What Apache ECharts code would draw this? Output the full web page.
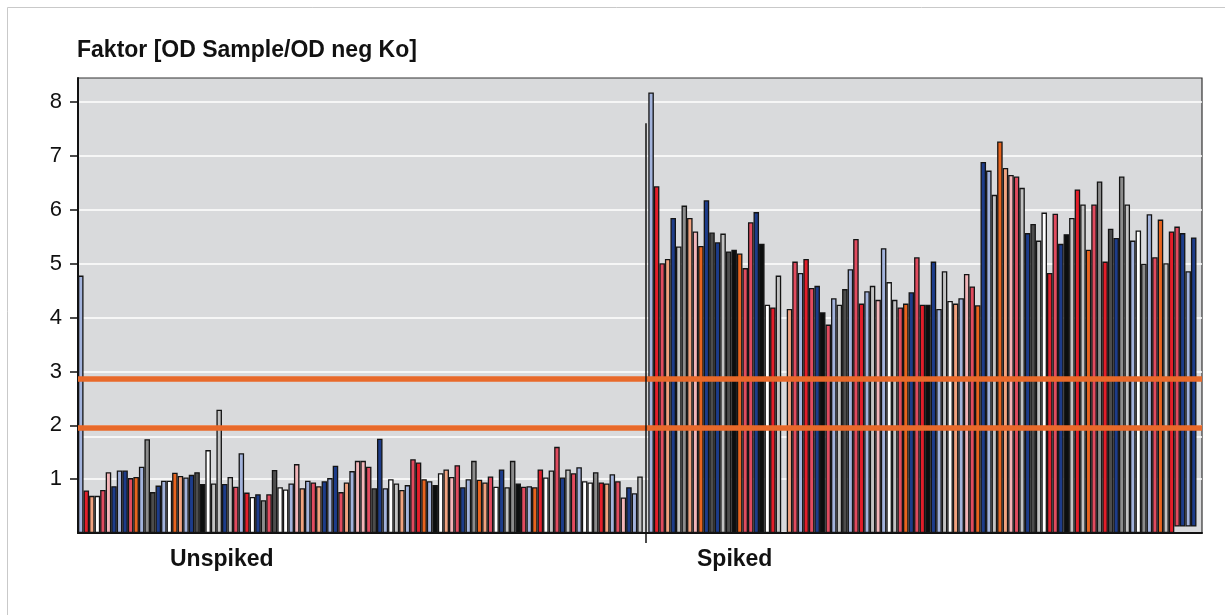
<!DOCTYPE html>
<html>
<head>
<meta charset="utf-8">
<title>Faktor</title>
<script src="https://cdn.jsdelivr.net/npm/echarts@6/dist/echarts.min.js"></script>
<style>
  html, body { margin: 0; padding: 0; background: #fff; }
  #chart { width: 1225px; height: 615px; }
</style>
</head>
<body>
<div id="chart"></div>
<script>
// Werte (Faktor OD Sample / OD neg Ko)
const unspikedValues = [
  4.78, 0.79, 0.69, 0.69, 0.80, 1.13, 0.87, 1.16, 1.16, 1.02,
  1.04, 1.23, 1.74, 0.76, 0.88, 0.97, 0.97, 1.12, 1.06, 1.03,
  1.08, 1.13, 0.91, 1.54, 0.92, 2.29, 0.91, 1.04, 0.86, 1.48,
  0.75, 0.67, 0.72, 0.61, 0.72, 1.17, 0.85, 0.81, 0.92, 1.28,
  0.83, 0.97, 0.94, 0.87, 0.96, 1.02, 1.25, 0.76, 0.94, 1.15,
  1.34, 1.34, 1.23, 0.83, 1.75, 0.83, 1.00, 0.92, 0.80, 0.89,
  1.37, 1.31, 1.00, 0.96, 0.89, 1.11, 1.18, 1.04, 1.26, 0.85,
  1.00, 1.34, 0.99, 0.94, 1.05, 0.86, 1.18, 0.85, 1.34, 0.92,
  0.86, 0.87, 0.85, 1.18, 1.03, 1.16, 1.60, 1.03, 1.18, 1.11,
  1.22, 0.96, 0.94, 1.13, 0.94, 0.92, 1.09, 0.96, 0.66, 0.85,
  0.74, 1.05
]
const unspikedColors = [
  'lb', 'rd', 'sa', 'wh', 'pr', 'lp', 'db', 'lb', 'db', 'pr',
  'or', 'lb', 'gr', 'dg', 'db', 'lb', 'wh', 'or', 'sa', 'lb',
  'db', 'dg', 'bk', 'wh', 'lg', 'lg', 'db', 'lg', 'pr', 'lb',
  'rd', 'wh', 'db', 'gr', 'pr', 'dg', 'wh', 'wh', 'lb', 'lp',
  'sa', 'lb', 'pr', 'sa', 'db', 'lb', 'db', 'pr', 'sa', 'lb',
  'lp', 'lp', 'pr', 'dg', 'db', 'lb', 'wh', 'lg', 'sa', 'lb',
  'pr', 'rd', 'or', 'lb', 'bk', 'wh', 'sa', 'lp', 'pr', 'db',
  'lb', 'gr', 'or', 'sa', 'pr', 'wh', 'db', 'lg', 'gr', 'bk',
  'pr', 'lb', 'or', 'rd', 'wh', 'lg', 'pr', 'db', 'lg', 'pr',
  'lb', 'wh', 'wh', 'gr', 'rd', 'sa', 'lb', 'pr', 'lp', 'db',
  'lb', 'lg'
]
const spikedValues = [
  8.18, 6.44, 5.01, 5.09, 5.85, 5.32, 6.08, 5.85, 5.60, 5.33,
  6.18, 5.58, 5.40, 5.56, 5.23, 5.26, 5.19, 4.92, 5.77, 5.96,
  5.37, 4.24, 4.19, 4.78, null, 4.16, 5.04, 4.83, 5.09, 4.55,
  4.59, 4.10, 3.87, 4.36, 4.24, 4.53, 4.90, 5.46, 4.26, 4.49,
  4.59, 4.33, 5.29, 4.66, 4.33, 4.19, 4.26, 4.47, 5.12, 4.24,
  4.24, 5.04, 4.16, 4.86, 4.31, 4.26, 4.36, 4.81, 4.58, 4.23,
  6.89, 6.73, 6.28, 7.27, 6.78, 6.65, 6.62, 6.41, 5.57, 5.74,
  5.43, 5.95, 4.83, 5.93, 5.37, 5.55, 5.85, 6.38, 6.10, 5.26,
  6.10, 6.53, 5.04, 5.65, 5.48, 6.62, 6.10, 5.43, 5.62, 5.00,
  5.92, 5.12, 5.82, 5.01, 5.60, 5.69, 5.57, 4.86, 5.49
]
const spikedColors = [
  'lb', 'rd', 'pr', 'sa', 'db', 'lg', 'gr', 'sa', 'lp', 'or',
  'db', 'dg', 'db', 'lg', 'dg', 'bk', 'or', 'pr', 'pr', 'db',
  'bk', 'wh', 'rd', 'lg', 'lg', 'sa', 'pr', 'lb', 'rd', 'pr',
  'db', 'bk', 'pr', 'lb', 'lg', 'dg', 'lb', 'pr', 'rd', 'lb',
  'lg', 'lp', 'lb', 'wh', 'lg', 'pr', 'or', 'db', 'pr', 'rd',
  'bk', 'db', 'lb', 'lg', 'wh', 'sa', 'lb', 'lp', 'pr', 'or',
  'db', 'lb', 'lg', 'or', 'sa', 'lp', 'pr', 'lg', 'db', 'dg',
  'lg', 'wh', 'rd', 'pr', 'db', 'bk', 'lg', 'rd', 'lg', 'or',
  'pr', 'gr', 'rd', 'dg', 'db', 'gr', 'lg', 'lb', 'wh', 'gr',
  'lb', 'pr', 'or', 'lg', 'rd', 'pr', 'db', 'lb', 'db'
]
// die letzten 4 Balken beginnen nicht bei 0
const spikedBaseTail = [0.12, 0.12, 0.12, 0.12]
// Grenzwerte (orange Linien)
const cutoffs = [2.86, 1.96]
const extraGridValue = 1.79
const separatorTop = 7.61
const yTicks = [1, 2, 3, 4, 5, 6, 7, 8]

const palette = {
  lb: '#a3b3dc', db: '#1d3c8a', rd: '#e31e2a', pr: '#e14b5f',
  lp: '#f3b5b9', sa: '#f1a27f', or: '#e8641e', wh: '#ffffff',
  lg: '#c2c2c2', gr: '#8c8c8c', dg: '#4d4d4d', bk: '#0c0e0e'
}
const fontFamily = '"Liberation Sans", Arial, Helvetica, sans-serif'

const categories = [
  ...unspikedValues.map((v, i) => 'U' + (i + 1)),
  'sep',
  ...spikedValues.map((v, i) => 'S' + (i + 1)),
  'end'
]
const sepIndex = unspikedValues.length

const tops = [...unspikedValues, null, ...spikedValues, null]
const colors = [...unspikedColors, null, ...spikedColors, null]
const bases = categories.map(() => 0)
spikedBaseTail.forEach((b, i) => {
  bases[sepIndex + spikedValues.length - spikedBaseTail.length + 1 + i] = b
})

const baseData = bases.map(b => b)
const barData = tops.map((t, i) => {
  if (t === null) return null
  return { value: +(t - bases[i]).toFixed(3), itemStyle: { color: palette[colors[i]] }}
})

const option = {
  animation: false,
  backgroundColor: '#ffffff',
  title: {
    text: 'Faktor [OD Sample/OD neg Ko]',
    left: 77,
    top: 39,
    padding: 0,
    textStyle: { fontFamily: fontFamily, fontSize: 23, fontWeight: 'bold', color: '#111' }
  },
  grid: {
    left: 78,
    right: 23,
    top: 78,
    bottom: 82,
    show: true,
    backgroundColor: '#d9dadc',
    borderColor: '#333',
    borderWidth: 1.2,
    outerBoundsMode: 'none'
  },
  xAxis: {
    type: 'category',
    data: categories,
    boundaryGap: true,
    axisLine: { lineStyle: { color: '#111', width: 2 }},
    axisTick: {
      show: true,
      alignWithLabel: true,
      interval: (index) => index === sepIndex,
      length: 10,
      lineStyle: { color: '#111', width: 1.5 }
    },
    axisLabel: { show: false },
    splitLine: { show: false }
  },
  yAxis: {
    type: 'value',
    min: 0,
    max: 8.45,
    interval: 1,
    axisLine: { show: true, lineStyle: { color: '#111', width: 2 }},
    axisTick: { show: true, length: 8, customValues: yTicks, lineStyle: { color: '#111', width: 1.5 }},
    axisLabel: {
      customValues: yTicks,
      margin: 16,
      fontFamily: fontFamily,
      fontSize: 22,
      color: '#111'
    },
    splitLine: { show: true, lineStyle: { color: '#ffffff', width: 1.5 }}
  },
  graphic: [
    {
      type: 'rect',
      shape: { x: 7.5, y: 7.5, width: 1240, height: 640 },
      style: { fill: 'none', stroke: '#c9c9c9', lineWidth: 1 },
      silent: true
    },
    {
      type: 'text',
      left: 170,
      top: 548,
      style: { text: 'Unspiked', font: 'bold 23px ' + fontFamily, fill: '#111' }
    },
    {
      type: 'text',
      left: 697,
      top: 548,
      style: { text: 'Spiked', font: 'bold 23px ' + fontFamily, fill: '#111' }
    }
  ],
  series: [
    {
      name: 'base',
      type: 'bar',
      stack: 'b',
      data: baseData,
      barWidth: '100%',
      barCategoryGap: '0%',
      silent: true,
      itemStyle: { color: 'rgba(0,0,0,0)', borderWidth: 0 },
      markLine: {
        silent: true,
        symbol: 'none',
        z: 1,
        label: { show: false },
        lineStyle: { color: '#ffffff', width: 1.5, type: 'solid' },
        data: [{ yAxis: extraGridValue }]
      }
    },
    {
      name: 'Faktor',
      type: 'bar',
      stack: 'b',
      data: barData,
      barWidth: '100%',
      barCategoryGap: '0%',
      itemStyle: { borderColor: '#141414', borderWidth: 1.3 },
      markLine: {
        silent: true,
        symbol: 'none',
        label: { show: false },
        data: [
          ...cutoffs.map(c => ({ yAxis: c, lineStyle: { color: '#e8692a', width: 5.5, type: 'solid' }})),
          [
            { coord: ['sep', 0], lineStyle: { color: '#111', width: 1.5, type: 'solid' }},
            { coord: ['sep', separatorTop] }
          ]
        ]
      }
    }
  ]
}

const myChart = echarts.init(document.getElementById('chart'), null, { renderer: 'canvas' })
myChart.setOption(option)
</script>
</body>
</html>
